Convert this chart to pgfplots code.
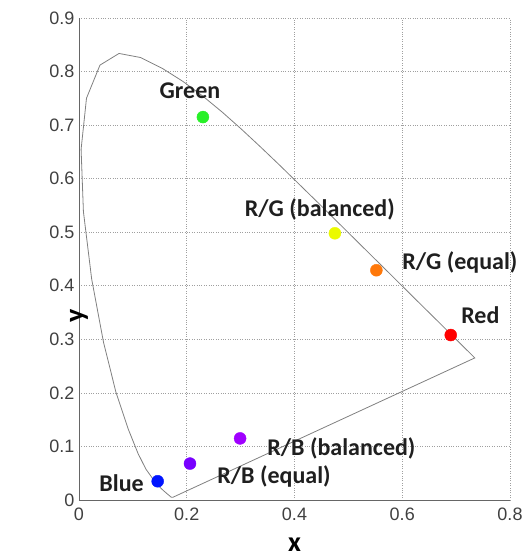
\documentclass[border=0pt]{standalone}
\usepackage{pgfplots}
\pgfplotsset{compat=1.18}
\usepackage{fontspec}
\setmainfont{Liberation Sans}
\newfontfamily\lab{Carlito}
\usetikzlibrary{calc}
\definecolor{locus}{RGB}{128,128,128}
\definecolor{cgreen}{RGB}{40,240,40}
\definecolor{cyellow}{RGB}{235,250,0}
\definecolor{corange}{RGB}{255,120,10}
\definecolor{cred}{RGB}{255,0,0}
\definecolor{cblue}{RGB}{0,20,255}
\definecolor{cviol}{RGB}{120,0,255}
\definecolor{cviolb}{RGB}{160,0,255}
\begin{document}
\begin{tikzpicture}
\begin{axis}[name=ax,
  scale only axis, width=431pt, height=482pt,
  xmin=0, xmax=0.8, ymin=0, ymax=0.9,
  xtick={0,0.2,...,0.8}, ytick={0,0.1,...,0.9},
  /pgf/number format/assume math mode=true,
  xticklabel style={font=\fontsize{18}{21}\selectfont, text=black!75, /pgf/number format/fixed, yshift=-4pt},
  yticklabel style={font=\fontsize{18}{21}\selectfont, text=black!75, /pgf/number format/fixed, xshift=-1pt},
  major tick length=0pt,
  grid=major,
  grid style={dotted, gray!75, line width=0.7pt},
  axis line style={draw=none},
  xlabel={x}, ylabel={y},
  xlabel style={font=\lab\bfseries\fontsize{28}{32}\selectfont, at={(axis description cs:0.5,0)}, anchor=center, yshift=-45pt},
  ylabel style={font=\lab\bfseries\fontsize{28}{32}\selectfont, at={(axis description cs:0,0.5)}, anchor=center, xshift=-57pt},
  clip=false,
]
\draw[gray!80!black, line width=0.8pt] (axis cs:0,0) -- (axis cs:0,0.9);
\draw[gray!80!black, line width=0.8pt] (axis cs:0,0) -- (axis cs:0.8,0);
\addplot[locus, line width=0.8pt, mark=none] coordinates {
(0.1741,0.0050) (0.1714,0.0051) (0.1644,0.0109) (0.1566,0.0177) (0.1440,0.0297)
(0.1241,0.0578) (0.1096,0.0868) (0.0913,0.1327) (0.0687,0.2007) (0.0454,0.2950)
(0.0235,0.4127) (0.0082,0.5384) (0.0039,0.6548) (0.0139,0.7502) (0.0389,0.8120)
(0.0743,0.8338) (0.1142,0.8262) (0.1547,0.8059) (0.1929,0.7816) (0.2296,0.7543)
(0.2658,0.7243) (0.3016,0.6923) (0.3373,0.6589) (0.3731,0.6245) (0.4441,0.5547)
(0.5125,0.4866) (0.5752,0.4242) (0.6270,0.3725) (0.6658,0.3340) (0.6915,0.3083)
(0.7079,0.2920) (0.7190,0.2809) (0.7347,0.2653) (0.1741,0.0050)
};
\addplot[only marks, mark=*, mark size=6pt, cgreen, mark options={draw=none}] coordinates {(0.230,0.715)};
\addplot[only marks, mark=*, mark size=6pt, cyellow, mark options={draw=none}] coordinates {(0.475,0.498)};
\addplot[only marks, mark=*, mark size=6pt, corange, mark options={draw=none}] coordinates {(0.552,0.429)};
\addplot[only marks, mark=*, mark size=6pt, cred, mark options={draw=none}] coordinates {(0.690,0.308)};
\addplot[only marks, mark=*, mark size=6pt, cblue, mark options={draw=none}] coordinates {(0.146,0.035)};
\addplot[only marks, mark=*, mark size=6pt, cviol, mark options={draw=none}] coordinates {(0.206,0.068)};
\addplot[only marks, mark=*, mark size=6pt, cviolb, mark options={draw=none}] coordinates {(0.299,0.115)};
\tikzset{lbl/.style={font=\lab\bfseries\fontsize{24}{28}\selectfont, text=black!88, anchor=center}}
\node[lbl] at (axis cs:0.206,0.765) {Green};
\node[lbl] at (axis cs:0.447,0.543) {R/G (balanced)};
\node[lbl] at (axis cs:0.707,0.444) {R/G (equal)};
\node[lbl] at (axis cs:0.745,0.345) {Red};
\node[lbl] at (axis cs:0.487,0.0964) {R/B (balanced)};
\node[lbl] at (axis cs:0.362,0.043) {R/B (equal)};
\node[lbl] at (axis cs:0.079,0.032) {Blue};
\end{axis}
\pgfresetboundingbox
\path ($(ax.south west)+(-79pt,-58pt)$) rectangle ($(ax.north east)+(17pt,18pt)$);
\end{tikzpicture}
\end{document}
